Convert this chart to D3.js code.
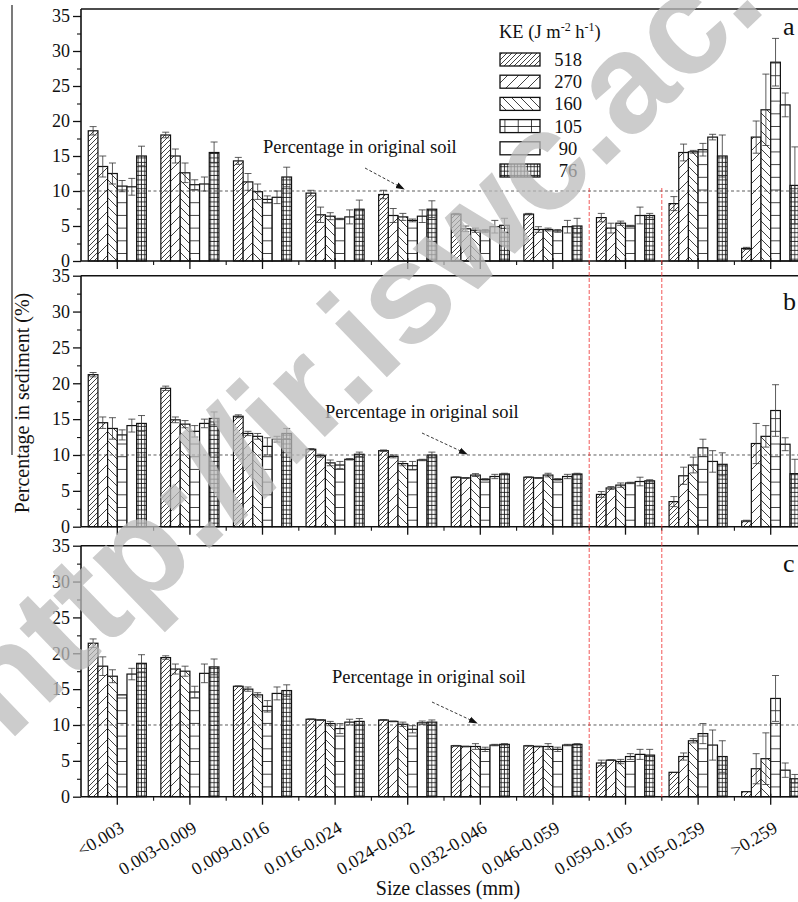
<!DOCTYPE html>
<html><head><meta charset="utf-8">
<script src="https://cdn.jsdelivr.net/npm/d3@7"></script>
<style>
body{margin:0;background:#fff}
svg{display:block}
text{font-family:"Liberation Serif","Times New Roman",serif;fill:#111}
</style>
</head><body>
<svg id="c" width="798" height="902"></svg>
<script>
// ---------- data ----------
const categories = ["<0.003","0.003-0.009","0.009-0.016","0.016-0.024","0.024-0.032",
                    "0.032-0.046","0.046-0.059","0.059-0.105","0.105-0.259",">0.259"];
const series = ["518","270","160","105","90","76"];
const yTicks = [0,5,10,15,20,25,30,35];
const originalSoil = 10;

// panel a
const meansA = [
  [18.6,13.5,12.5,10.7,10.6,15.0],
  [18.0,15.0,12.6,10.9,11.0,15.5],
  [14.3,11.3, 9.9, 8.8, 9.1,12.0],
  [ 9.7, 6.6, 6.4, 6.0, 6.3, 7.4],
  [ 9.5, 6.5, 6.3, 5.8, 6.4, 7.4],
  [ 6.7, 4.6, 4.4, 4.3, 4.9, 5.1],
  [ 6.7, 4.5, 4.5, 4.3, 4.9, 5.0],
  [ 6.2, 4.7, 5.4, 5.0, 6.5, 6.5],
  [ 8.2,15.5,15.6,15.9,17.7,15.0],
  [ 1.8,17.7,21.6,28.4,22.3,10.8]];
const errA = [
  [0.6,1.5,1.5,0.8,1.2,1.4],
  [0.4,1.0,1.4,0.7,1.0,1.5],
  [0.5,1.2,1.1,0.5,0.9,1.4],
  [0.4,1.1,0.5,0.1,1.0,1.3],
  [0.6,1.0,0.5,0.2,0.9,1.2],
  [0.1,0.4,0.3,0.2,0.9,1.0],
  [0.1,0.4,0.2,0.2,0.9,1.1],
  [0.6,0.7,0.3,0.1,1.2,0.3],
  [1.0,1.2,0.2,0.9,0.4,3.0],
  [0.15,2.3,5.1,3.4,1.7,5.5]];
// panel b
const meansB = [
  [21.2,14.5,13.7,12.8,14.1,14.4],
  [19.3,14.9,14.3,13.3,14.4,15.1],
  [15.4,13.0,12.6,11.2,12.2,13.0],
  [10.8, 9.9, 8.9, 8.6, 9.4,10.1],
  [10.6, 9.8, 8.8, 8.5, 9.3,10.0],
  [ 6.9, 6.8, 7.2, 6.6, 7.0, 7.35],
  [ 6.9, 6.8, 7.2, 6.6, 7.0, 7.35],
  [ 4.5, 5.4, 5.8, 6.1, 6.3, 6.4],
  [ 3.5, 7.1, 8.6,11.0, 9.1, 8.7],
  [ 0.8,11.6,12.6,16.2,11.5, 7.4]];
const errB = [
  [0.3,0.8,1.5,0.7,0.9,1.1],
  [0.3,0.4,0.5,0.8,0.6,0.9],
  [0.2,0.3,0.4,1.2,0.4,0.7],
  [0.1,0.2,0.4,0.5,0.1,0.3],
  [0.1,0.2,0.3,0.6,0.1,0.4],
  [0.05,0.05,0.2,0.1,0.3,0.1],
  [0.05,0.05,0.25,0.1,0.3,0.1],
  [0.4,0.2,0.3,0.1,0.6,0.15],
  [0.7,1.2,1.1,1.2,1.5,1.6],
  [0.1,2.8,1.5,3.6,0.9,2.0]];
// panel c
const meansC = [
  [21.4,18.2,16.8,14.2,17.1,18.6],
  [19.4,17.8,17.5,14.6,17.2,18.1],
  [15.4,15.0,14.2,12.6,14.4,14.8],
  [10.8,10.7,10.2, 9.5,10.4,10.5],
  [10.7,10.5,10.1, 9.4,10.3,10.4],
  [ 7.1, 7.0, 7.0, 6.6, 7.2, 7.3],
  [ 7.1, 7.0, 7.0, 6.6, 7.2, 7.3],
  [ 4.7, 5.1, 4.9, 5.6, 5.9, 5.8],
  [ 3.4, 5.6, 7.8, 8.8, 7.2, 5.6],
  [ 0.7, 3.9, 5.3,13.7, 3.7, 2.5]];
const errC = [
  [0.6,1.3,0.9,0.0,0.8,1.2],
  [0.25,0.7,0.7,0.8,1.3,1.1],
  [0.05,0.3,0.3,0.8,0.9,0.8],
  [0.05,0.05,0.3,0.7,0.4,0.4],
  [0.05,0.05,0.3,0.5,0.25,0.3],
  [0.05,0.05,0.4,0.3,0.1,0.1],
  [0.05,0.05,0.4,0.3,0.1,0.1],
  [0.4,0.05,0.3,0.4,0.7,0.8],
  [0.0,0.5,0.3,1.4,2.1,2.2],
  [0.0,2.1,3.6,3.2,1.0,0.6]];

// ---------- layout ----------
const panels = [
  {id:"a", means:meansA, err:errA, max:36, top:9,     bottom:261,
   note:{x:263, y:153, ax1:365, ay1:168, ax2:404, ay2:189}, letterY:35},
  {id:"b", means:meansB, err:errB, max:35, top:275.7, bottom:526.7,
   note:{x:325, y:418, ax1:422, ay1:433, ax2:467, ay2:454}, letterY:310},
  {id:"c", means:meansC, err:errC, max:35, top:545.7, bottom:796.7,
   note:{x:332, y:683, ax1:432, ay1:702, ax2:477, ay2:723}, letterY:572}
];
const W = 798, left = 81, right = 807;
const SERIF = '"Liberation Serif","Times New Roman",serif';

const svg = d3.select("#c");
const defs = svg.append("defs");

// patterns
function hatch(id, s, dir){
  const p = defs.append("pattern").attr("id",id).attr("patternUnits","userSpaceOnUse")
    .attr("width",s).attr("height",s);
  p.append("rect").attr("width",s).attr("height",s).attr("fill","#fff");
  const d = dir>0
    ? `M0,${s}L${s},0M${-s/2},${s/2}L${s/2},${-s/2}M${s/2},${s*1.5}L${s*1.5},${s/2}`
    : `M0,0L${s},${s}M${-s/2},${s/2}L${s/2},${s*1.5}M${s/2},${-s/2}L${s*1.5},${s/2}`;
  p.append("path").attr("d",d).attr("stroke","#111").attr("stroke-width",0.8);
}
hatch("p518",5,1);
hatch("p270",11,1);
hatch("p160",9,-1);
function grid(id, w, h, vert){
  const p = defs.append("pattern").attr("id",id).attr("patternUnits","userSpaceOnUse")
    .attr("width",w).attr("height",h);
  p.append("rect").attr("width",w).attr("height",h).attr("fill","#fff");
  p.append("path").attr("d", `M0,${h-0.5}L${w},${h-0.5}` + (vert?`M${w-0.5},0L${w-0.5},${h}`:""))
    .attr("stroke","#111").attr("stroke-width",0.8);
}
grid("p105",20,12.7,false);
grid("p105L",13.3,12.7,true);
grid("p76",3.3,4.4,true);
const fillFor = {"518":"url(#p518)","270":"url(#p270)","160":"url(#p160)",
                 "105":"url(#p105)","90":"#fff","76":"url(#p76)"};
const legendFill = Object.assign({}, fillFor, {"105":"url(#p105L)"});

defs.append("marker").attr("id","arr").attr("viewBox","0 0 10 10").attr("refX",9).attr("refY",5)
  .attr("markerWidth",9).attr("markerHeight",9).attr("markerUnits","userSpaceOnUse").attr("orient","auto")
  .append("path").attr("d","M0,1.5L10,5L0,8.5Z").attr("fill","#111");

const x0 = d3.scaleBand().domain(categories).range([left,right]).paddingInner(0.2).paddingOuter(0.1);
const x1 = d3.scaleBand().domain(series).range([0,x0.bandwidth()]);
const step = x0.step();

// stray scan line at the far left
svg.append("line").attr("x1",12).attr("x2",12).attr("y1",5).attr("y2",455)
  .attr("stroke","#222").attr("stroke-width",1.2);

panels.forEach(P=>{
  const y = d3.scaleLinear().domain([0,P.max]).range([P.bottom,P.top]);
  const g = svg.append("g");

  // bars
  categories.forEach((cat,i)=>{
    series.forEach((s,j)=>{
      const v = P.means[i][j];
      g.append("rect")
        .attr("x",x0(cat)+x1(s)).attr("y",y(v))
        .attr("width",x1.bandwidth()).attr("height",y(0)-y(v))
        .attr("fill",fillFor[s]).attr("stroke","#111").attr("stroke-width",1.2);
    });
  });
  // error bars
  categories.forEach((cat,i)=>{
    series.forEach((s,j)=>{
      const v = P.means[i][j], e = P.err[i][j];
      if(e<=0) return;
      const cx = x0(cat)+x1(s)+x1.bandwidth()/2;
      const eg = g.append("g").attr("stroke","#333").attr("stroke-width",0.8);
      eg.append("line").attr("x1",cx).attr("x2",cx).attr("y1",y(Math.max(0,v-e))).attr("y2",y(v+e));
      eg.append("line").attr("x1",cx-3.5).attr("x2",cx+3.5).attr("y1",y(v+e)).attr("y2",y(v+e));
      eg.append("line").attr("x1",cx-3.5).attr("x2",cx+3.5).attr("y1",y(Math.max(0,v-e))).attr("y2",y(Math.max(0,v-e)));
    });
  });

  // reference line
  g.append("line").attr("x1",left+1).attr("x2",W).attr("y1",y(originalSoil)).attr("y2",y(originalSoil))
    .attr("stroke","#333").attr("stroke-width",0.8).attr("stroke-dasharray","3,2.5");
  g.append("text").attr("x",P.note.x).attr("y",P.note.y).attr("font-size",18.5)
    .style("font-family",SERIF).text("Percentage in original soil");
  g.append("line").attr("x1",P.note.ax1).attr("y1",P.note.ay1).attr("x2",P.note.ax2).attr("y2",P.note.ay2)
    .attr("stroke","#222").attr("stroke-width",0.9).attr("stroke-dasharray","3,2").attr("marker-end","url(#arr)");

  // frame
  g.append("line").attr("x1",left).attr("x2",W).attr("y1",P.top).attr("y2",P.top).attr("stroke","#111").attr("stroke-width",1.6);
  g.append("line").attr("x1",left).attr("x2",W).attr("y1",P.bottom).attr("y2",P.bottom).attr("stroke","#111").attr("stroke-width",1.6);
  g.append("line").attr("x1",left).attr("x2",left).attr("y1",P.top).attr("y2",P.bottom).attr("stroke","#111").attr("stroke-width",1.6);

  // y axis
  const ya = g.append("g").attr("transform",`translate(${left},0)`)
    .call(d3.axisLeft(y).tickValues(yTicks).tickSize(8).tickPadding(3));
  ya.select(".domain").remove();
  ya.selectAll("line").attr("stroke","#111").attr("stroke-width",1.3);
  ya.selectAll("text").attr("font-size",18).style("font-family",SERIF).attr("fill","#111");
  const ym = g.append("g").attr("transform",`translate(${left},0)`)
    .call(d3.axisLeft(y).tickValues(d3.range(2.5,35,5)).tickSize(4).tickFormat(""));
  ym.select(".domain").remove();
  ym.selectAll("line").attr("stroke","#111").attr("stroke-width",1.1);

  // x ticks
  categories.forEach(cat=>{
    const cx = x0(cat)+x0.bandwidth()/2;
    g.append("line").attr("x1",cx).attr("x2",cx).attr("y1",P.bottom-3).attr("y2",P.bottom+8)
      .attr("stroke","#111").attr("stroke-width",1.3);
    const bx = cx + step/2;
    g.append("line").attr("x1",bx).attr("x2",bx).attr("y1",P.bottom).attr("y2",P.bottom+4)
      .attr("stroke","#111").attr("stroke-width",1.1);
  });

  // panel letter
  g.append("text").attr("x",783).attr("y",P.letterY).attr("font-size",26).style("font-family",SERIF).text(P.id);

  if(P.id==="c"){
    categories.forEach(cat=>{
      const cx = x0(cat)+x0.bandwidth()/2;
      g.append("text").attr("transform",`translate(${cx+8},831) rotate(-31)`)
        .attr("text-anchor","end").attr("font-size",18).style("font-family",SERIF).text(cat);
    });
  }
});

// red dashed separators
[7,8].forEach(k=>{
  const bx = x0(categories[k]) - step*x0.paddingInner()/2;
  svg.append("line").attr("x1",bx).attr("x2",bx).attr("y1",188).attr("y2",797)
    .attr("stroke","#f03a3a").attr("stroke-width",1).attr("stroke-dasharray","4,2").attr("opacity",0.85);
});

// axis titles
svg.append("text").attr("x",448).attr("y",895).attr("text-anchor","middle").attr("font-size",20)
  .style("font-family",SERIF).text("Size classes (mm)");
svg.append("text").attr("transform","translate(29,403) rotate(-90)").attr("text-anchor","middle")
  .attr("font-size",20).style("font-family",SERIF).text("Percentage in sediment (%)");

// legend
const lg = svg.append("g");
const kt = lg.append("text").attr("x",499).attr("y",38).attr("font-size",18.5).style("font-family",SERIF);
kt.append("tspan").text("KE (J m");
kt.append("tspan").attr("dy",-7).attr("font-size",12).text("-2");
kt.append("tspan").attr("dy",7).text(" h");
kt.append("tspan").attr("dy",-7).attr("font-size",12).text("-1");
kt.append("tspan").attr("dy",7).text(")");
series.forEach((s,j)=>{
  const yy = 53 + j*22.2;
  lg.append("rect").attr("x",500).attr("y",yy).attr("width",40).attr("height",13)
    .attr("fill",legendFill[s]).attr("stroke","#111").attr("stroke-width",1.3);
  lg.append("text").attr("x",568).attr("y",yy+13).attr("text-anchor","middle").attr("font-size",18.5)
    .style("font-family",SERIF).text(s);
});

// watermark
svg.append("text").attr("transform","translate(8,743) rotate(-44)")
  .style("font-family","'Liberation Sans', Arial, sans-serif").attr("font-weight","bold")
  .attr("font-size",141).style("fill","#bbbbbb").attr("opacity",0.75)
  .text("http://ir.iswc.ac.cn");
</script>
</body></html>
